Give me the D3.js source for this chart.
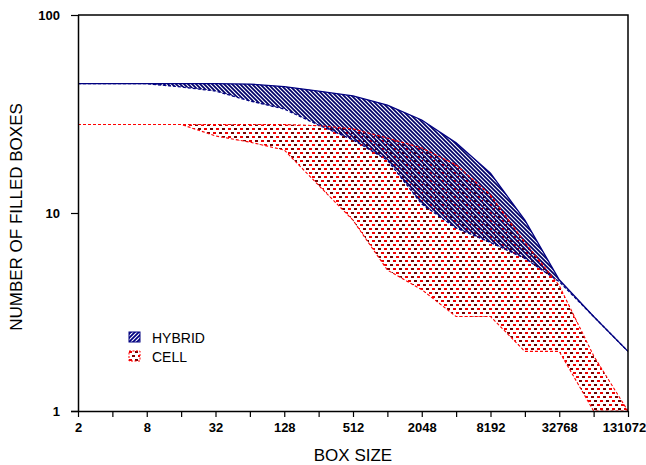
<!DOCTYPE html>
<html>
<head>
<meta charset="utf-8">
<script src="https://cdn.jsdelivr.net/npm/d3@7"></script>
<style>
  body { margin: 0; background: #fff; }
  svg { display: block; font-family: Arial, "Liberation Sans", sans-serif; }
</style>
</head>
<body>
<svg id="chart"></svg>
<script>
// box sizes, one point per power of two
const boxSize = [2, 4, 8, 16, 32, 64, 128, 256, 512, 1024, 2048, 4096, 8192, 16384, 32768, 65536, 131072];

// hybrid band (upper = solid, lower = dashed)
const hybridUpper = [45, 45, 45, 45, 45, 44.8, 43.5, 41.3, 39, 35.1, 29.5, 22.6, 15.9, 9.2, 4.6, 3, 2];
const hybridLower = [45, 45, 45, 43.3, 41.3, 36.8, 33.5, 27.8, 23.4, 18.5, 11.1, 8.4, 7.1, 5.9, 4.5, 3, 2];

// cell band
const cellUpper = [28, 28, 28, 28, 28, 28, 28, 27.6, 26.6, 23.9, 21.3, 17.5, 12.3, 7.1, 4.3, 1.9, 1];
const cellLower = [28, 28, 28, 28, 24.5, 22.8, 20.8, 13.8, 9.2, 5.15, 4.1, 3, 3, 2, 2, 1, 1];

const yTicks = [1, 10, 100];
const legendItems = ['HYBRID', 'CELL'];

const width = 646, height = 465;
const margin = { top: 15, right: 18, bottom: 54, left: 78 };

const svg = d3.select('#chart').attr('width', width).attr('height', height);

const x = d3.scaleLog().base(2).domain([2, 131072]).range([margin.left, width - margin.right]);
const y = d3.scaleLog().domain([1, 100]).range([height - margin.bottom, margin.top]);

const defs = svg.append('defs');

// navy diagonal hatching, drawn "\" in a 4px tile
const hatch = defs.append('pattern')
  .attr('id', 'hatch')
  .attr('patternUnits', 'userSpaceOnUse')
  .attr('width', 4).attr('height', 4);
hatch.append('path')
  .attr('d', 'M-1,-1L5,5M-1,3L1,5M3,-1L5,1')
  .attr('stroke', '#000066').attr('stroke-width', 1.7);

// white stripes for the legend swatch
const hatchLeg = defs.append('pattern')
  .attr('id', 'hatchLeg')
  .attr('patternUnits', 'userSpaceOnUse')
  .attr('width', 4).attr('height', 4);
hatchLeg.append('rect').attr('width', 4).attr('height', 4).attr('fill', '#000080');
hatchLeg.append('path')
  .attr('d', 'M-1,5L5,-1M-1,1L1,-1M3,5L5,3')
  .attr('stroke', '#fff').attr('stroke-width', 1.1);

// red dash "brick" fill
const dots = defs.append('pattern')
  .attr('id', 'dots')
  .attr('patternUnits', 'userSpaceOnUse')
  .attr('width', 12).attr('height', 8);
[[0, 0, '#ee0000'], [6, 0, '#6a0000'], [3, 4, '#7a0000'], [9, 4, '#ee0000']].forEach(([dx, dy, c]) => {
  dots.append('rect').attr('x', dx).attr('y', dy).attr('width', 3).attr('height', 2).attr('fill', c);
});

defs.append('clipPath').attr('id', 'clip')
  .append('rect')
  .attr('x', margin.left).attr('y', margin.top)
  .attr('width', width - margin.left - margin.right)
  .attr('height', height - margin.top - margin.bottom);

const idx = d3.range(boxSize.length);

function band(upper, lower) {
  return d3.area()
    .x(i => x(boxSize[i]))
    .y0(i => y(lower[i]))
    .y1(i => y(upper[i]));
}
function line(vals) {
  return d3.line().x(i => x(boxSize[i])).y(i => y(vals[i]));
}

const plot = svg.append('g').attr('clip-path', 'url(#clip)');

plot.append('path').datum(idx)
  .attr('d', band(cellUpper, cellLower))
  .attr('fill', 'url(#dots)');

plot.append('path').datum(idx)
  .attr('d', band(hybridUpper, hybridLower))
  .attr('fill', 'url(#hatch)');

plot.append('path').datum(idx)
  .attr('d', line(cellUpper))
  .attr('fill', 'none').attr('stroke', '#ff0000').attr('stroke-width', 1.1)
  .attr('stroke-dasharray', '3,2');
plot.append('path').datum(idx)
  .attr('d', line(cellLower))
  .attr('fill', 'none').attr('stroke', '#ff0000').attr('stroke-width', 1.1)
  .attr('stroke-dasharray', '3,2');

plot.append('path').datum(idx)
  .attr('d', line(hybridLower))
  .attr('fill', 'none').attr('stroke', '#000080').attr('stroke-width', 1.3)
  .attr('stroke-dasharray', '3,2');
plot.append('path').datum(idx)
  .attr('d', line(hybridUpper))
  .attr('fill', 'none').attr('stroke', '#000080').attr('stroke-width', 1.3);

// frame (top and right)
svg.append('path')
  .attr('d', `M${margin.left},${y(100)}H${x(131072)}V${y(1)}`)
  .attr('fill', 'none').attr('stroke', '#000').attr('stroke-width', 1.5);

// x axis
const xAxis = svg.append('g')
  .attr('transform', `translate(0,${y(1)})`)
  .call(d3.axisBottom(x)
    .tickValues(boxSize)
    .tickSize(6)
    .tickPadding(6)
    .tickFormat((d, i) => i % 2 === 0 ? d : ''));
xAxis.select('.domain').attr('stroke-width', 1.5).attr('d', `M${margin.left - 7},0.5H${x(131072)}`);
xAxis.selectAll('.tick line').attr('stroke-width', 1.2);
xAxis.selectAll('.tick text')
  .attr('font-size', 13).attr('font-weight', 'bold').attr('fill', '#000')
  .attr('font-family', 'Arial, "Liberation Sans", sans-serif')
  .attr('dx', (d, i) => i === boxSize.length - 1 ? -4 : 0);

// y axis
const yAxis = svg.append('g')
  .attr('transform', `translate(${margin.left},0)`)
  .call(d3.axisLeft(y)
    .tickValues(yTicks)
    .tickSize(7)
    .tickPadding(11)
    .tickFormat(d3.format('d')));
yAxis.select('.domain').attr('stroke-width', 1.5).attr('d', `M0.5,${y(1)}V${y(100)}`);
yAxis.selectAll('.tick line').attr('stroke-width', 1.2);
yAxis.selectAll('.tick text')
  .attr('font-size', 13).attr('font-weight', 'bold').attr('fill', '#000')
  .attr('font-family', 'Arial, "Liberation Sans", sans-serif');

// axis titles
svg.append('text')
  .attr('x', (margin.left + x(131072)) / 2)
  .attr('y', 461)
  .attr('text-anchor', 'middle')
  .attr('font-size', 17)
  .text('BOX SIZE');

svg.append('text')
  .attr('transform', `translate(22,${(y(1) + y(100)) / 2 + 4}) rotate(-90)`)
  .attr('text-anchor', 'middle')
  .attr('font-size', 17)
  .text('NUMBER OF FILLED BOXES');

// legend
const legend = svg.append('g').attr('transform', 'translate(129,332)');
legendItems.forEach((name, i) => {
  const g = legend.append('g').attr('transform', `translate(0,${i * 19})`);
  if (i === 0) {
    g.append('rect').attr('width', 11).attr('height', 10)
      .attr('fill', 'url(#hatchLeg)').attr('stroke', '#000080');
  } else {
    g.append('rect').attr('width', 11).attr('height', 10)
      .attr('fill', 'url(#dots)').attr('stroke', '#ff0000')
      .attr('stroke-dasharray', '2,1.5');
  }
  g.append('text')
    .attr('x', 23).attr('y', 10.5)
    .attr('font-size', 14)
    .text(name);
});
</script>
</body>
</html>
